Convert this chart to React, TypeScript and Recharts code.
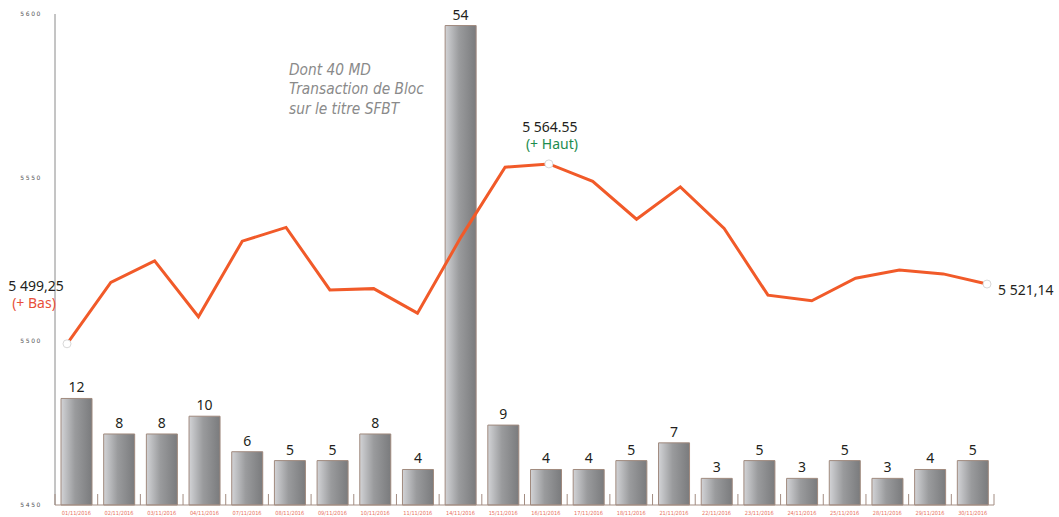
import React from 'react';
import { ComposedChart, Bar, Line, XAxis, YAxis, LabelList } from 'recharts';

const dates = [
  '01/11/2016', '02/11/2016', '03/11/2016', '04/11/2016', '07/11/2016', '08/11/2016',
  '09/11/2016', '10/11/2016', '11/11/2016', '14/11/2016', '15/11/2016', '16/11/2016',
  '17/11/2016', '18/11/2016', '21/11/2016', '22/11/2016', '23/11/2016', '24/11/2016',
  '25/11/2016', '28/11/2016', '29/11/2016', '30/11/2016',
];
const volumes = [12, 8, 8, 10, 6, 5, 5, 8, 4, 54, 9, 4, 4, 5, 7, 3, 5, 3, 5, 3, 4, 5];
const indexValues = [
  5499.25, 5518.0, 5524.6, 5507.5, 5530.6, 5534.8, 5515.7, 5516.1, 5508.6, 5532.0, 5553.2,
  5554.2, 5548.9, 5537.3, 5547.2, 5534.5, 5514.1, 5512.4, 5519.3, 5521.8, 5520.6, 5517.5,
];
const priceTicks = [5450, 5500, 5550, 5600];
const lowNote = ['5 499,25', '(+ Bas)'];
const highNote = ['5 564.55', '(+ Haut)'];
const lastNote = '5 521,14';
const blocNote = ['Dont 40 MD', 'Transaction de Bloc', 'sur le titre SFBT'];

const data = dates.map((d, i) => ({ date: d, vol: volumes[i], idx: indexValues[i] }));

const maxIdx = indexValues.indexOf(Math.max(...indexValues));
const lastIdx = indexValues.length - 1;

const FONT = '"Noto Sans", "Open Sans", sans-serif';

const DateTick = (props: any) => {
  const { x, y, payload, width, visibleTicksCount, index } = props;
  const half = payload && payload.offset ? payload.offset : width / visibleTicksCount / 2;
  return (
    <g>
      {index === 0 && (
        <line x1={x - half} x2={x - half} y1={y - 11} y2={y} stroke="#a38d82" strokeWidth={1} />
      )}
      <line x1={x + half} x2={x + half} y1={y - 11} y2={y} stroke="#a38d82" strokeWidth={1} />
      <text
        x={x}
        y={y + 10}
        textAnchor="middle"
        fontSize={5.6}
        fill="#e8705e"
        fontFamily='"DejaVu Sans Condensed", "DejaVu Sans", sans-serif'
      >
        {payload.value}
      </text>
    </g>
  );
};

const PriceTick = (props: any) => {
  const { x, y, payload } = props;
  return (
    <text
      x={x}
      y={y}
      dy={2}
      textAnchor="end"
      fontSize={6}
      letterSpacing={1.6}
      fill="#555"
      fontFamily='"DejaVu Sans", sans-serif'
    >
      {payload.value}
    </text>
  );
};

const renderDot = (p: any) => {
  const { cx, cy, index } = p;
  const key = `dot-${index}`;
  if (index !== 0 && index !== maxIdx && index !== lastIdx) return <g key={key} />;
  return (
    <g key={key}>
      <circle cx={cx} cy={cy} r={4} fill="#fff" stroke="#d8d8d8" strokeWidth={1} />
      {index === 0 && (
        <>
          <text x={cx - 31} y={cy - 53} textAnchor="middle" fontSize={14} fill="#231f20" fontFamily={FONT}>
            {lowNote[0]}
          </text>
          <text x={cx - 33} y={cy - 36} textAnchor="middle" fontSize={14} fill="#e8503a" fontFamily={FONT}>
            {lowNote[1]}
          </text>
        </>
      )}
      {index === maxIdx && (
        <>
          <text x={cx + 1} y={cy - 32} textAnchor="middle" fontSize={14} fill="#231f20" fontFamily={FONT}>
            {highNote[0]}
          </text>
          <text x={cx + 3} y={cy - 15} textAnchor="middle" fontSize={14} fill="#1e8c4e" fontFamily={FONT}>
            {highNote[1]}
          </text>
        </>
      )}
      {index === lastIdx && (
        <text x={cx + 11} y={cy + 11} textAnchor="start" fontSize={14} fill="#231f20" fontFamily={FONT}>
          {lastNote}
        </text>
      )}
    </g>
  );
};

export default function App() {
  return (
    <div style={{ position: 'absolute', left: 0, top: 0, width: 1059, height: 517, background: '#fff' }}>
      <ComposedChart
        width={1059}
        height={517}
        data={data}
        margin={{ top: 14, right: 65, bottom: 0, left: 0 }}
      >
        <defs>
          <linearGradient id="barGrad" x1="0" y1="0" x2="1" y2="0">
            <stop offset="0%" stopColor="#d2d3d6" />
            <stop offset="45%" stopColor="#9a9b9d" />
            <stop offset="100%" stopColor="#7a7b7d" />
          </linearGradient>
        </defs>
        <XAxis
          xAxisId="bar"
          dataKey="date"
          height={12}
          tickSize={0}
          tickMargin={0}
          tickLine={false}
          axisLine={{ stroke: '#a38d82', strokeWidth: 1 }}
          tick={<DateTick />}
          interval={0}
        />
        <XAxis
          xAxisId="line"
          dataKey="date"
          hide
          scale="point"
          padding={{ left: 12, right: 7 }}
        />
        <YAxis
          yAxisId="price"
          width={55}
          domain={[5450, 5600]}
          ticks={priceTicks}
          tickSize={0}
          tickMargin={13}
          tickLine={false}
          axisLine={{ stroke: '#8a8a8a', strokeWidth: 1 }}
          tick={<PriceTick />}
          allowDataOverflow
        />
        <YAxis yAxisId="vol" hide domain={[0, 55.3]} />
        <Bar
          xAxisId="bar"
          yAxisId="vol"
          dataKey="vol"
          barSize={31}
          fill="url(#barGrad)"
          stroke="#a08a7e"
          strokeWidth={1}
          isAnimationActive={false}
        >
          <LabelList
            dataKey="vol"
            position="top"
            offset={6}
            fontSize={14}
            fill="#231f20"
            fontFamily={FONT}
          />
        </Bar>
        <Line
          xAxisId="line"
          yAxisId="price"
          dataKey="idx"
          type="linear"
          stroke="#f15a29"
          strokeWidth={3}
          dot={renderDot}
          activeDot={false}
          isAnimationActive={false}
        />
      </ComposedChart>
      <div
        style={{
          position: 'absolute',
          left: 289,
          top: 61,
          fontFamily: '"DejaVu Sans Condensed", "DejaVu Sans", sans-serif',
          fontStyle: 'italic',
          fontSize: 15.3,
          lineHeight: '19.4px',
          color: '#8a8a8a',
          whiteSpace: 'nowrap',
        }}
      >
        {blocNote.map((t) => (
          <div key={t}>{t}</div>
        ))}
      </div>
    </div>
  );
}
